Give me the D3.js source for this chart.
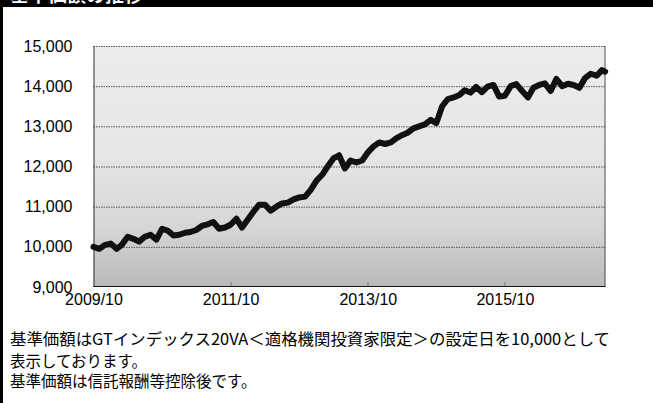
<!DOCTYPE html>
<style>
body { margin: 0; background: #fff; }
svg { display: block; }
.axis text { font: 16px "Liberation Sans", Arial, sans-serif; fill: #000; }
.note { font: 15.5px "Noto Sans CJK JP", sans-serif; fill: #000; }
</style>
<svg width="653" height="403"></svg>
<script src="https://d3js.org/d3.v7.min.js"></script>
<script>

// monthly base price, starting 2009/10
var startMonth = "2009-10";
var values = [
  10000, 9950, 10050, 10080, 9950, 10050, 10250, 10200, 10130, 10250,
  10300, 10180, 10450, 10400, 10280, 10300, 10350, 10370, 10420, 10520,
  10560, 10620, 10450, 10480, 10550, 10700, 10480, 10680, 10880, 11050,
  11050, 10900, 11000, 11080, 11100, 11180, 11230, 11250, 11420, 11650,
  11800, 12000, 12200, 12280, 11950, 12150, 12100, 12150, 12350, 12500,
  12600, 12560, 12600, 12700, 12780, 12840, 12950, 13000, 13050, 13160,
  13080, 13500, 13680, 13720, 13780, 13900, 13840, 13980, 13850, 13990,
  14030, 13740, 13760, 14000, 14050, 13880, 13720, 13960, 14030, 14070,
  13880, 14180, 14000, 14060, 14030, 13960, 14200, 14310, 14260, 14400
];
var lastDate = "2017-03-18", lastValue = 14360;

var yTicks = [9000, 10000, 11000, 12000, 13000, 14000, 15000];
var xTicks = ["2009-10-01", "2011-10-01", "2013-10-01", "2015-10-01"];
var title = "基準価額の推移";
var notes = [
  "基準価額はGTインデックス20VA＜適格機関投資家限定＞の設定日を10,000として",
  "表示しております。",
  "基準価額は信託報酬等控除後です。"
];

var svg = d3.select("svg"),
    margin = {top: 46, right: 47.5, bottom: 116, left: 93.5},
    width = +svg.attr("width") - margin.left - margin.right,
    height = +svg.attr("height") - margin.top - margin.bottom;

var parseMonth = d3.timeParse("%Y-%m"),
    parseDay = d3.timeParse("%Y-%m-%d");

var data = values.map(function(v, i) {
  return {date: d3.timeMonth.offset(parseMonth(startMonth), i), value: v};
});
data.push({date: parseDay(lastDate), value: lastValue});

var x = d3.scaleTime()
    .domain([parseDay("2009-10-01"), parseDay("2017-03-20")])
    .range([0, width]);

var y = d3.scaleLinear()
    .domain([9000, 15000])
    .range([height, 0]);

// frame bits (title band is cut off at the top, as in the source)
svg.append("rect").attr("x", 0).attr("y", 0).attr("width", 653).attr("height", 7).attr("fill", "#000");
svg.append("rect").attr("x", 0).attr("y", 0).attr("width", 3).attr("height", 403).attr("fill", "#000");
svg.append("text")
    .attr("x", 10).attr("y", 1.5)
    .attr("fill", "#fff")
    .style("font", "bold 19px 'Noto Sans CJK JP', sans-serif")
    .text(title);

var defs = svg.append("defs");
var grad = defs.append("linearGradient")
    .attr("id", "bg").attr("x1", 0).attr("y1", 0).attr("x2", 0).attr("y2", 1);
grad.append("stop").attr("offset", "0%").attr("stop-color", "#ececec");
grad.append("stop").attr("offset", "45%").attr("stop-color", "#e6e6e6");
grad.append("stop").attr("offset", "75%").attr("stop-color", "#d6d6d6");
grad.append("stop").attr("offset", "100%").attr("stop-color", "#b8b8b8");

var g = svg.append("g").attr("transform", "translate(" + margin.left + "," + margin.top + ")");

g.append("rect")
    .attr("width", width)
    .attr("height", height)
    .attr("fill", "url(#bg)");

// dotted gridlines
g.append("g")
  .selectAll("line")
  .data(yTicks.slice(1))
  .enter().append("line")
    .attr("x1", 0)
    .attr("x2", width)
    .attr("y1", function(d) { return y(d) + 0.5; })
    .attr("y2", function(d) { return y(d) + 0.5; })
    .attr("stroke", "#555")
    .attr("stroke-dasharray", "1.5,1");

// x ticks point up into the plot
g.append("g")
  .selectAll("line")
  .data(xTicks.slice(1))
  .enter().append("line")
    .attr("x1", function(d) { return Math.round(x(parseDay(d))) + 0.5; })
    .attr("x2", function(d) { return Math.round(x(parseDay(d))) + 0.5; })
    .attr("y1", height)
    .attr("y2", height - 5)
    .attr("stroke", "#777");

// frame
g.append("line").attr("x1", 0.5).attr("x2", 0.5).attr("y1", 0).attr("y2", height).attr("stroke", "#333");
g.append("line").attr("x1", width - 0.5).attr("x2", width - 0.5).attr("y1", 0).attr("y2", height).attr("stroke", "#555");
g.append("line").attr("x1", 0).attr("x2", width).attr("y1", height - 0.5).attr("y2", height - 0.5).attr("stroke", "#111");

var line = d3.line()
    .x(function(d) { return x(d.date); })
    .y(function(d) { return y(d.value); });

g.append("path")
    .datum(data)
    .attr("fill", "none")
    .attr("stroke", "#111")
    .attr("stroke-width", 6)
    .attr("stroke-linejoin", "round")
    .attr("stroke-linecap", "round")
    .attr("d", line);

// axes (labels only)
g.append("g")
    .attr("class", "axis")
    .call(d3.axisLeft(y).tickValues(yTicks).tickFormat(d3.format(",")).tickSize(0).tickPadding(21))
    .call(function(s) { s.select(".domain").remove(); });

g.append("g")
    .attr("class", "axis")
    .attr("transform", "translate(0," + height + ")")
    .call(d3.axisBottom(x).tickValues(xTicks.map(parseDay)).tickFormat(d3.timeFormat("%Y/%m")).tickSize(0).tickPadding(7))
    .call(function(s) { s.select(".domain").remove(); });

// footnotes
svg.selectAll(".note")
  .data(notes)
  .enter().append("text")
    .attr("class", "note")
    .attr("x", 10)
    .attr("y", function(d, i) { return [345, 367, 387][i]; })
    .attr("textLength", function(d, i) { return i == 0 ? 600 : null; })
    .attr("lengthAdjust", "spacingAndGlyphs")
    .text(function(d) { return d; });

</script>
